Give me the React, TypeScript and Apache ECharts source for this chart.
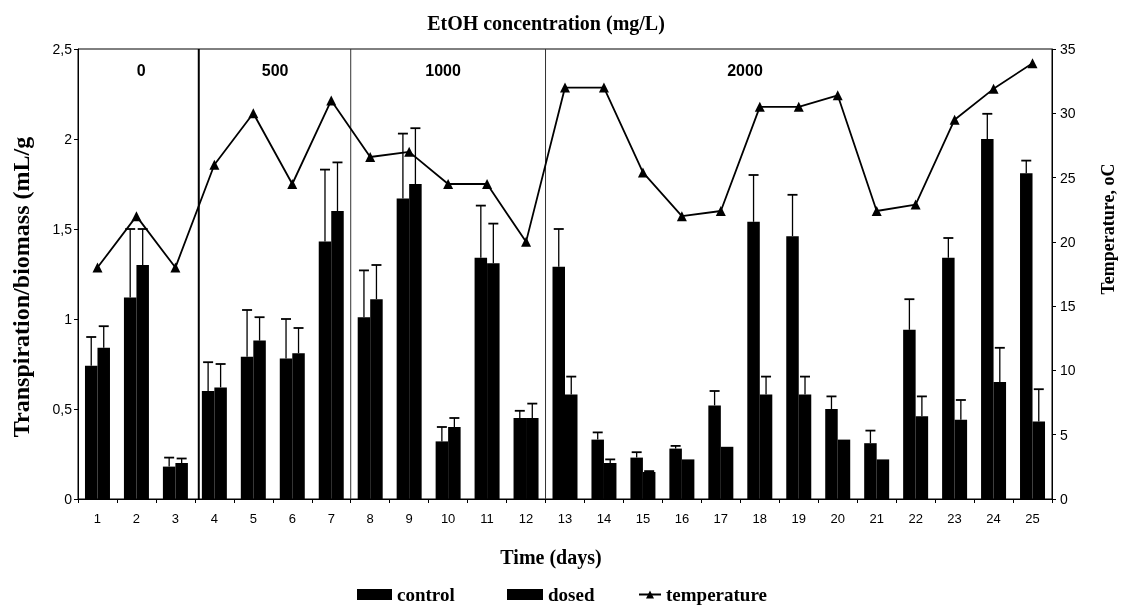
import React, { useEffect, useRef } from "react";
import * as echarts from "echarts";

const days = ["1","2","3","4","5","6","7","8","9","10","11","12","13","14","15","16","17","18","19","20","21","22","23","24","25"];
const control = [0.74,1.12,0.18,0.60,0.79,0.78,1.43,1.01,1.67,0.32,1.34,0.45,1.29,0.33,0.23,0.28,0.52,1.54,1.46,0.50,0.31,0.94,1.34,2.00,1.81];
const controlSd = [0.16,0.38,0.05,0.16,0.26,0.22,0.40,0.26,0.36,0.08,0.29,0.04,0.21,0.04,0.03,0.015,0.08,0.26,0.23,0.07,0.07,0.17,0.11,0.14,0.07];
const dosed = [0.84,1.30,0.20,0.62,0.88,0.81,1.60,1.11,1.75,0.40,1.31,0.45,0.58,0.20,0.15,0.22,0.29,0.58,0.58,0.33,0.22,0.46,0.44,0.65,0.43];
const dosedSd = [0.12,0.20,0.025,0.13,0.13,0.14,0.27,0.19,0.31,0.05,0.22,0.08,0.10,0.02,0.005,0,0,0.10,0.10,0,0,0.11,0.11,0.19,0.18];
const temperature = [18,22,18,26,30,24.5,31,26.6,27,24.5,24.5,20,32,32,25.4,22,22.4,30.5,30.5,31.4,22.4,22.9,29.5,31.9,33.9];

// EtOH concentration groups: boundaries (day axis) and label positions (day axis)
const concBoundaries = [3.6, 7.5, 12.5];
const concLabels = ["0", "500", "1000", "2000"];
const concLabelPos = [2.12, 5.56, 9.87, 17.62];

const BAR_W = 12.5;
const SERIF = '"Liberation Serif", "Times New Roman", serif';
const SANS = '"Liberation Sans", Arial, sans-serif';

function errRender(side: number) {
  return (params: any, api: any) => {
    const mean = api.value(1);
    const top = api.value(2);
    if (top - mean < 0.001) return null;
    const p0 = api.coord([api.value(0), mean]);
    const p1 = api.coord([api.value(0), top]);
    const cx = p0[0] + (side * BAR_W) / 2;
    return {
      type: "group",
      children: [
        { type: "line", shape: { x1: cx, y1: p0[1], x2: cx, y2: p1[1] }, style: { stroke: "#000", lineWidth: 1.3 } },
        { type: "line", shape: { x1: cx - 5, y1: p1[1], x2: cx + 5, y2: p1[1] }, style: { stroke: "#000", lineWidth: 1.8 } },
      ],
    };
  };
}

export default function App() {
  const ref = useRef<HTMLDivElement>(null);
  useEffect(() => {
    if (!ref.current) return;
    const chart = echarts.init(ref.current, null, { renderer: "svg" });
    const legendText = { fontFamily: SERIF, fontWeight: "bold", fontSize: 19, color: "#000" };
    const option: any = {
      animation: false,
      grid: { left: 78, right: 74, top: 49, bottom: 109, show: true, borderColor: "#000", borderWidth: 1 },
      xAxis: [
        {
          type: "category",
          data: days,
          axisLine: { lineStyle: { color: "#000", width: 1 } },
          axisTick: { show: true, length: 4, lineStyle: { color: "#000" } },
          axisLabel: { interval: 0, color: "#000", fontSize: 13, fontFamily: SANS, margin: 13 },
        },
        { type: "value", min: 0.5, max: 25.5, show: false },
      ],
      yAxis: [
        {
          type: "value",
          min: 0,
          max: 2.5,
          interval: 0.5,
          position: "left",
          axisLine: { show: true, lineStyle: { color: "#000", width: 1 } },
          axisTick: { show: true, length: 4, lineStyle: { color: "#000" } },
          splitLine: { show: false },
          axisLabel: {
            color: "#000",
            fontSize: 14,
            fontFamily: SANS,
            margin: 6,
            formatter: (v: number) => String(v).replace(".", ","),
          },
        },
        {
          type: "value",
          min: 0,
          max: 35,
          interval: 5,
          position: "right",
          axisLine: { show: true, lineStyle: { color: "#000", width: 1 } },
          axisTick: { show: true, length: 4, lineStyle: { color: "#000" } },
          splitLine: { show: false },
          axisLabel: { color: "#000", fontSize: 14, fontFamily: SANS, margin: 8 },
        },
      ],
      legend: [
        { data: [{ name: "control", icon: "rect" }], left: 352, top: 580, itemWidth: 35, itemHeight: 11, itemGap: 0, selectedMode: false, textStyle: legendText },
        { data: [{ name: "dosed", icon: "rect" }], left: 502, top: 580, itemWidth: 36, itemHeight: 11, itemGap: 0, selectedMode: false, textStyle: legendText },
        { data: ["temperature"], left: 633, top: 580, itemWidth: 22, itemHeight: 10, itemGap: 0, selectedMode: false, textStyle: legendText },
      ],
      graphic: [
        { type: "text", x: 546, y: 23, style: { text: "EtOH concentration (mg/L)", font: `bold 20px ${SERIF}`, fill: "#000", align: "center", verticalAlign: "middle" } },
        { type: "text", x: 551, y: 557, style: { text: "Time (days)", font: `bold 20px ${SERIF}`, fill: "#000", align: "center", verticalAlign: "middle" } },
        { type: "text", x: 21, y: 287, rotation: Math.PI / 2, style: { text: "Transpiration/biomass (mL/g", font: `bold 24px ${SERIF}`, fill: "#000", align: "center", verticalAlign: "middle" } },
        { type: "text", x: 1108, y: 229, rotation: Math.PI / 2, style: { text: "Temperature, oC", font: `bold 18px ${SERIF}`, fill: "#000", align: "center", verticalAlign: "middle" } },
      ],
      series: [
        {
          name: "control",
          type: "bar",
          data: control,
          barWidth: BAR_W,
          barGap: "0%",
          itemStyle: { color: "#000" },
          z: 2,
        },
        {
          name: "dosed",
          type: "bar",
          data: dosed,
          barWidth: BAR_W,
          barGap: "0%",
          itemStyle: { color: "#000" },
          z: 2,
        },
        {
          name: "controlErr",
          type: "custom",
          xAxisIndex: 0,
          yAxisIndex: 0,
          data: control.map((v, i) => [i, v, v + controlSd[i]]),
          encode: { x: 0, y: 2 },
          renderItem: errRender(-1),
          z: 3,
        },
        {
          name: "dosedErr",
          type: "custom",
          xAxisIndex: 0,
          yAxisIndex: 0,
          data: dosed.map((v, i) => [i, v, v + dosedSd[i]]),
          encode: { x: 0, y: 2 },
          renderItem: errRender(1),
          z: 3,
        },
        {
          name: "separators",
          type: "custom",
          xAxisIndex: 1,
          yAxisIndex: 0,
          data: concBoundaries.map((b) => [b, 2.5]),
          encode: { x: 0, y: 1 },
          renderItem: (params: any, api: any) => {
            const top = api.coord([api.value(0), 2.5]);
            const bottom = api.coord([api.value(0), 0]);
            const first = params.dataIndex === 0;
            return {
              type: "line",
              shape: { x1: top[0], y1: top[1], x2: bottom[0], y2: bottom[1] },
              style: { stroke: first ? "#000" : "#333", lineWidth: first ? 2 : 1 },
            };
          },
          z: 4,
        },
        {
          name: "concLabels",
          type: "custom",
          xAxisIndex: 1,
          yAxisIndex: 0,
          data: concLabelPos.map((p) => [p, 2.5]),
          encode: { x: 0, y: 1 },
          renderItem: (params: any, api: any) => {
            const top = api.coord([api.value(0), 2.5]);
            return {
              type: "text",
              x: top[0],
              y: top[1] + 21,
              style: {
                text: concLabels[params.dataIndex],
                font: `bold 16px ${SANS}`,
                fill: "#000",
                align: "center",
                verticalAlign: "middle",
              },
            };
          },
          z: 4,
        },
        {
          name: "temperature",
          type: "line",
          yAxisIndex: 1,
          data: temperature,
          symbol: "triangle",
          symbolSize: 10,
          lineStyle: { color: "#000", width: 1.8 },
          itemStyle: { color: "#000" },
          z: 5,
        },
      ],
    };
    chart.setOption(option);
    return () => chart.dispose();
  }, []);
  return <div ref={ref} style={{ position: "fixed", left: 0, top: 0, width: 1126, height: 608 }} />;
}
